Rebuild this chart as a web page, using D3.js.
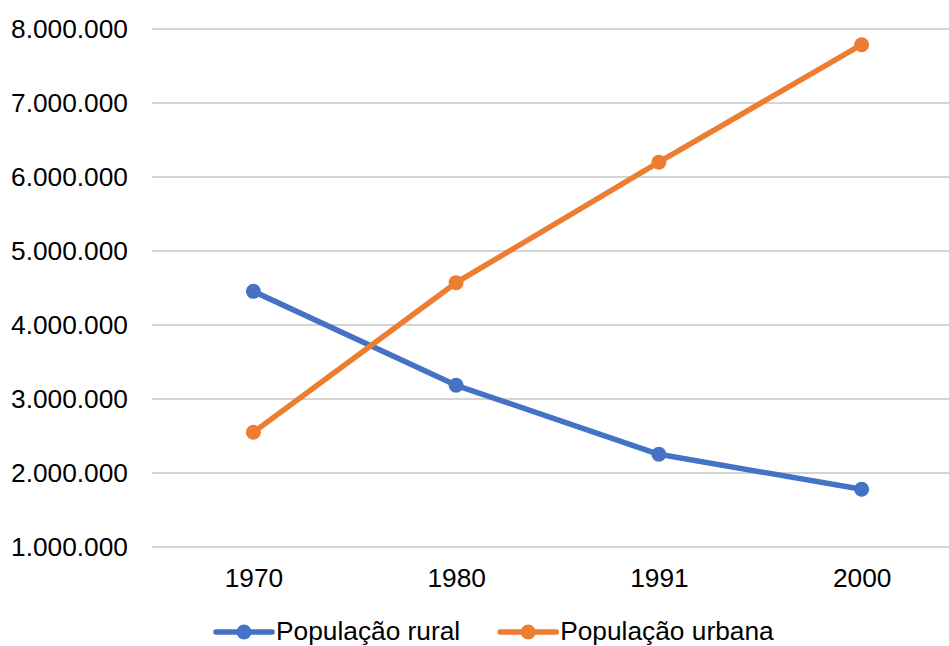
<!DOCTYPE html>
<html>
<head>
<meta charset="utf-8">
<script src="https://cdn.jsdelivr.net/npm/d3@7"></script>
<style>
  html, body { margin: 0; padding: 0; background: #fff; }
  svg { display: block; font-family: "Liberation Sans", Arial, sans-serif; }
</style>
</head>
<body>
<svg id="chart" width="949" height="646"></svg>
<script>
const years = ["1970", "1980", "1991", "2000"];
const rural = [4455000, 3185000, 2253000, 1780000];
const urbana = [2550000, 4572000, 6200000, 7788000];
const seriesNames = ["População rural", "População urbana"];
const seriesColors = ["#4472C4", "#ED7D31"];
const yTicks = [1000000, 2000000, 3000000, 4000000, 5000000, 6000000, 7000000, 8000000];

const svg = d3.select("#chart");
const plotLeft = 152, plotRight = 963, plotTop = 29, plotBottom = 547;
const fs = 26.3;

const x = d3.scalePoint().domain(years).range([plotLeft, plotRight]).padding(0.5);
const y = d3.scaleLinear().domain([1000000, 8000000]).range([plotBottom, plotTop]);

const fmt = v => d3.format(",")(v).replace(/,/g, ".");

// gridlines
svg.append("g").selectAll("line").data(yTicks).join("line")
  .attr("x1", plotLeft).attr("x2", 949)
  .attr("y1", d => y(d)).attr("y2", d => y(d))
  .attr("stroke", "#d4d4d4").attr("stroke-width", 2);

// y axis labels
const yAxis = d3.axisLeft(y).tickValues(yTicks).tickFormat(fmt).tickSize(0).tickPadding(0);
const gy = svg.append("g").attr("transform", `translate(128,0)`).call(yAxis);
gy.select(".domain").remove();
gy.selectAll("text").attr("font-size", fs).attr("fill", "#000")
  .attr("font-family", "Liberation Sans, Arial, sans-serif").attr("dy", "0.32em");

// x axis labels
const xAxis = d3.axisBottom(x).tickSize(0).tickPadding(0);
const gx = svg.append("g").attr("transform", `translate(0,${plotBottom})`).call(xAxis);
gx.select(".domain").remove();
gx.selectAll("text").attr("font-size", fs).attr("fill", "#000")
  .attr("font-family", "Liberation Sans, Arial, sans-serif").attr("dy", null).attr("y", 40);

// series
const data = [rural, urbana];
const line = d3.line().x((d, i) => x(years[i])).y(d => y(d));
data.forEach((vals, s) => {
  const g = svg.append("g");
  g.append("path").datum(vals).attr("d", line)
    .attr("fill", "none").attr("stroke", seriesColors[s]).attr("stroke-width", 5.5)
    .attr("stroke-linejoin", "round").attr("stroke-linecap", "round");
  g.selectAll("circle").data(vals).join("circle")
    .attr("cx", (d, i) => x(years[i])).attr("cy", d => y(d)).attr("r", 7.5)
    .attr("fill", seriesColors[s]);
});

// legend
const legend = svg.append("g");
let lx = 216;
const ly = 632;
seriesNames.forEach((name, s) => {
  legend.append("line").attr("x1", lx).attr("x2", lx + 56).attr("y1", ly).attr("y2", ly)
    .attr("stroke", seriesColors[s]).attr("stroke-width", 5.5).attr("stroke-linecap", "round");
  legend.append("circle").attr("cx", lx + 28).attr("cy", ly).attr("r", 7.5).attr("fill", seriesColors[s]);
  const t = legend.append("text").attr("x", lx + 60).attr("y", ly + 7.5)
    .attr("font-size", fs).attr("fill", "#000").text(name);
  lx += 60 + t.node().getComputedTextLength() + 40;
});
</script>
</body>
</html>
